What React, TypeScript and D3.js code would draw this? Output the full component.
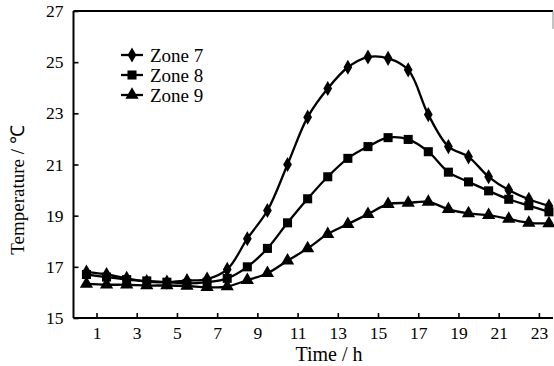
import React, { useEffect, useRef } from "react";
import * as d3 from "d3";

const hours = [0.5, 1.5, 2.5, 3.5, 4.5, 5.5, 6.5, 7.5, 8.5, 9.5, 10.5, 11.5, 12.5, 13.5, 14.5, 15.5, 16.5, 17.5, 18.5, 19.5, 20.5, 21.5, 22.5, 23.5];
const zone7 = [16.8, 16.7, 16.55, 16.42, 16.4, 16.46, 16.52, 16.9, 18.1, 19.2, 21.0, 22.85, 23.97, 24.8, 25.2, 25.15, 24.7, 22.95, 21.7, 21.3, 20.52, 20.0, 19.64, 19.38];
const zone8 = [16.7, 16.6, 16.5, 16.45, 16.4, 16.35, 16.4, 16.55, 17.0, 17.72, 18.72, 19.66, 20.52, 21.24, 21.7, 22.05, 21.98, 21.5, 20.7, 20.32, 19.97, 19.64, 19.39, 19.15];
const zone9 = [16.33, 16.3, 16.3, 16.27, 16.27, 16.25, 16.2, 16.23, 16.48, 16.75, 17.24, 17.72, 18.28, 18.67, 19.06, 19.45, 19.5, 19.54, 19.25, 19.09, 19.02, 18.87, 18.72, 18.7];
const seriesNames = ["Zone 7", "Zone 8", "Zone 9"];
const xTicks = [1, 3, 5, 7, 9, 11, 13, 15, 17, 19, 21, 23];
const yTicks = [15, 17, 19, 21, 23, 25, 27];

const W = 554;
const H = 366;
const font = "'Liberation Serif', 'Times New Roman', serif";

const App = () => {
  const ref = useRef<SVGSVGElement>(null);

  useEffect(() => {
    const svg = d3.select(ref.current);
    svg.selectAll("*").remove();

    const x = d3.scaleLinear().domain([0, 24]).range([76.4, 559]);
    const y = d3.scaleLinear().domain([15, 27]).range([318, 11]);
    const left = 73.5;
    const right = 553;

    const series = [
      { name: seriesNames[0], values: zone7, symbol: d3.symbolDiamond, size: 66 },
      { name: seriesNames[1], values: zone8, symbol: d3.symbolSquare, size: 82 },
      { name: seriesNames[2], values: zone9, symbol: d3.symbolTriangle, size: 76 },
    ];

    // frame
    svg.append("line").attr("x1", left).attr("x2", left).attr("y1", y(27)).attr("y2", y(15))
      .attr("stroke", "#000").attr("stroke-width", 2);
    svg.append("line").attr("x1", left).attr("x2", right).attr("y1", y(15)).attr("y2", y(15))
      .attr("stroke", "#000").attr("stroke-width", 2);
    svg.append("line").attr("x1", left).attr("x2", right).attr("y1", y(27)).attr("y2", y(27))
      .attr("stroke", "#000").attr("stroke-width", 2);
    svg.append("line").attr("x1", right).attr("x2", right).attr("y1", y(27)).attr("y2", y(26.3))
      .attr("stroke", "#888").attr("stroke-width", 1);

    // axes
    const yAxis = svg.append("g").attr("transform", `translate(${left},0)`)
      .call(d3.axisLeft(y).tickValues(yTicks).tickSize(-5).tickSizeOuter(0).tickPadding(10));
    yAxis.select(".domain").remove();
    yAxis.selectAll("line").attr("stroke", "#000").attr("stroke-width", 1.6);
    yAxis.selectAll("text").attr("font-family", font).attr("font-size", 17.5).attr("fill", "#000");

    const xAxis = svg.append("g").attr("transform", `translate(0,${y(15)})`)
      .call(d3.axisBottom(x).tickValues(xTicks).tickSize(-5).tickSizeOuter(0).tickPadding(8));
    xAxis.select(".domain").remove();
    xAxis.selectAll("line").attr("stroke", "#000").attr("stroke-width", 1.6);
    xAxis.selectAll("text").attr("font-family", font).attr("font-size", 17.5).attr("fill", "#000")
      .attr("dy", "0.75em");

    // lines
    const line = d3.line<number>()
      .x((d, i) => x(hours[i]))
      .y((d) => y(d))
      .curve(d3.curveCatmullRom.alpha(0.5));

    series.forEach((s) => {
      svg.append("path").attr("d", line(s.values) as string)
        .attr("fill", "none").attr("stroke", "#000").attr("stroke-width", 2.3);
      const sym = d3.symbol().type(s.symbol).size(s.size);
      svg.append("g").selectAll("path").data(s.values).enter().append("path")
        .attr("d", sym() as string)
        .attr("transform", (d, i) => `translate(${x(hours[i])},${y(d)})`)
        .attr("fill", "#000");
    });

    // legend
    const legend = svg.append("g").attr("transform", "translate(121,55)");
    series.forEach((s, i) => {
      const g = legend.append("g").attr("transform", `translate(0,${i * 20})`);
      g.append("line").attr("x1", 0).attr("x2", 22).attr("y1", 0).attr("y2", 0)
        .attr("stroke", "#000").attr("stroke-width", 2.3);
      g.append("path").attr("d", d3.symbol().type(s.symbol).size(s.size)() as string)
        .attr("transform", "translate(11,0)").attr("fill", "#000");
      g.append("text").attr("x", 29).attr("y", 0).attr("dy", "0.35em")
        .attr("font-family", font).attr("font-size", 19).attr("fill", "#000").text(s.name);
    });

    // axis titles
    svg.append("text").attr("x", 329).attr("y", 361).attr("text-anchor", "middle")
      .attr("font-family", font).attr("font-size", 20).attr("fill", "#000").text("Time / h");
    svg.append("text").attr("transform", "translate(24,190) rotate(-90)").attr("text-anchor", "middle")
      .attr("font-family", font).attr("font-size", 19).attr("fill", "#000").text("Temperature / ℃");
  }, []);

  return (
    <svg
      ref={ref}
      width={W}
      height={H}
      style={{ position: "absolute", left: 0, top: 0, background: "#fff" }}
    />
  );
};

export default App;
